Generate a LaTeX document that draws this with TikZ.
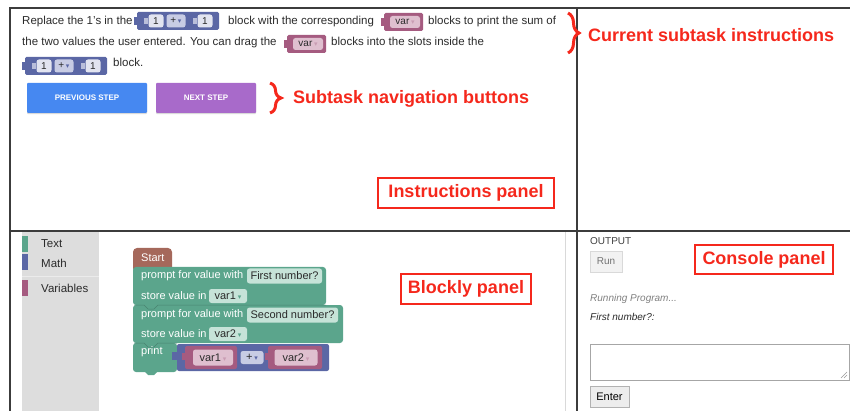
\documentclass[tikz,border=0pt]{standalone}
\usepackage{fontspec}
\setmainfont{Liberation Sans}
\newfontfamily\symf{DejaVu Sans}
\usetikzlibrary{decorations.pathreplacing,shadows}

\definecolor{txtc}{HTML}{2A2A2A}
\definecolor{labred}{HTML}{F5281C}
\definecolor{frame}{HTML}{3C3C3C}
\definecolor{grn}{HTML}{5BA58C}
\definecolor{grnf}{HTML}{C6E3D8}
\definecolor{mth}{HTML}{5B67A5}
\definecolor{mthf}{HTML}{C8CCE4}
\definecolor{numf}{HTML}{E2E4F0}
\definecolor{vrb}{HTML}{A55B80}
\definecolor{vrbf}{HTML}{DFBFCF}
\definecolor{strt}{HTML}{A5685B}
\definecolor{tbox}{HTML}{DDDDDD}
\definecolor{prevb}{HTML}{4688F1}
\definecolor{nextb}{HTML}{A86ACA}

\newcommand{\txtf}{\fontsize{11.5}{13}\selectfont}
\newcommand{\labf}{\fontsize{18}{20}\selectfont\bfseries}
\newcommand{\blkf}{\fontsize{11}{13}\selectfont}
\newcommand{\smf}{\fontsize{10}{12}\selectfont}
\newcommand{\btnf}{\fontsize{8}{10}\selectfont\bfseries}
\newcommand{\dd}[1]{\,\textcolor{#1}{\symf\fontsize{7}{7}\selectfont ▾}}

% inline blocks of the instructions text: name, left x, middle y
\newcommand{\varblk}[3]{%
  \fill[vrb] (#2,#3-4) rectangle (#2+4,#3+4);
  \fill[vrb, rounded corners=1.5pt] (#2+3,#3-9) rectangle (#2+42,#3+9);
  \node[field, fill=vrbf, minimum width=30pt, minimum height=12pt, font=\smf] (#1) at (#2+24,#3) {var\dd{vrb!60}};
}
\newcommand{\sumblk}[3]{%
  \fill[mth] (#2,#3-4) rectangle (#2+4,#3+4);
  \fill[mth, rounded corners=1.5pt] (#2+3,#3-9) rectangle (#2+85,#3+9);
  \fill[numf!70!mth] (#2+10,#3-3) rectangle (#2+14,#3+3);
  \fill[numf!70!mth] (#2+59,#3-3) rectangle (#2+63,#3+3);
  \node[field, fill=numf, minimum width=15pt, minimum height=13pt, font=\smf] (#1a) at (#2+22,#3) {1};
  \node[field, fill=mthf, minimum width=19pt, minimum height=13pt, font=\smf] (#1b) at (#2+42,#3) {+\dd{mth}};
  \node[field, fill=numf, minimum width=15pt, minimum height=13pt, font=\smf] (#1c) at (#2+71,#3) {1};
}

\begin{document}
\begin{tikzpicture}[x=1pt,y=-1pt,
  txt/.style={anchor=base west, inner sep=0pt, font=\txtf, text=txtc},
  lab/.style={anchor=west, inner sep=0pt, font=\labf, text=labred},
  redbox/.style={draw=labred, line width=2.8pt, inner sep=0pt, font=\labf, text=labred},
  bl/.style={anchor=west, inner sep=0pt, font=\blkf, text=white},
  field/.style={rounded corners=2.5pt, inner sep=0pt, minimum height=15pt, font=\blkf, text=txtc},
  btn/.style={inner sep=0pt, minimum height=30pt, rounded corners=1pt, font=\btnf, text=white,
    drop shadow={opacity=.3, shadow xshift=0pt, shadow yshift=-1.2pt}},
  ui/.style={anchor=west, inner sep=0pt, font=\smf, text=txtc},
  brc/.style={decorate, decoration={brace, amplitude=11pt}, draw=labred, line width=3pt},
  frm/.style={draw=frame, line width=1.5pt}]

\useasboundingbox (0,0) rectangle (850,411);

\fill[tbox] (22,232) rectangle (99,411);
\draw[white!92!black, line width=.6pt] (22,276) -- (99,276);
\draw[white!85!black, line width=.8pt] (565,232) -- (565,411);

\draw[frm] (10,411) -- (10,8) -- (850,8);
\draw[frm] (577,8) -- (577,411);
\draw[frm] (10,231) -- (850,231);

\node[txt] (t1a) at (22,25) {Replace the 1's in the};
\sumblk{sum1}{134}{21}
\node[txt] (t1b) at (228,25) {block with the corresponding};
\varblk{var1}{381}{22}
\node[txt] (t1c) at (428,25) {blocks to print the sum of};
\node[txt] (t2a) at (22,46) {the two values the user entered. You can drag the};
\varblk{var2}{284}{44}
\node[txt] (t2b) at (331,46) {blocks into the slots inside the};
\sumblk{sum2}{22}{66}
\node[txt] (t3) at (113,67) {block.};

\node[btn, fill=prevb, minimum width=120pt] (prev) at (87,98) {PREVIOUS STEP};
\node[btn, fill=nextb, minimum width=100pt] (next) at (206,98) {NEXT STEP};

\draw[brc] (568,13) -- (568,53);
\node[lab] (lcur) at (588,35) {Current subtask instructions};
\draw[brc] (270,83) -- (270,113);
\node[lab] (lnav) at (293,99) {Subtask navigation buttons};
\node[redbox, minimum width=176pt, minimum height=30pt] (ipanel) at (466,193) {Instructions panel};

\fill[grn] (22,236) rectangle (28,252);
\fill[mth] (22,254) rectangle (28,270);
\fill[vrb] (22,280) rectangle (28,296);
\node[ui, font=\fontsize{11.5}{13}\selectfont] (ctext) at (41,244) {Text};
\node[ui, font=\fontsize{11.5}{13}\selectfont] (cmath) at (41,263) {Math};
\node[ui, font=\fontsize{11.5}{13}\selectfont] (cvars) at (41,288) {Variables};

\fill[strt, rounded corners=4pt] (133,272) |- (172,248) -- (172,272) -- cycle;
\fill[grn, rounded corners=3pt] (133,267) rectangle (326,305);
\fill[grn, rounded corners=3pt] (133,305) rectangle (343,343);
\fill[grn, rounded corners=3pt] (133,343) rectangle (177,372);
\fill[grn] (144,371) -- (158,371) -- (154,375) -- (148,375) -- cycle;
\draw[grn!80!black, line width=.5pt] (134,305) -- (144,305) -- (148,309) -- (154,309) -- (158,305) -- (326,305);
\draw[grn!80!black, line width=.5pt] (134,343) -- (144,343) -- (148,347) -- (154,347) -- (158,343) -- (177,343);
\node[bl] (start) at (141,258) {Start};
\node[bl] (pr1) at (141,276) {prompt for value with};
\node[field, fill=grnf, minimum width=75pt] (fn1) at (284.5,276) {First number?};
\node[bl] (st1) at (141,295.5) {store value in};
\node[field, fill=grnf, minimum width=38pt, minimum height=14pt] (sv1) at (228,296) {var1\dd{grn}};
\node[bl] (pr2) at (141,315) {prompt for value with};
\node[field, fill=grnf, minimum width=91pt] (fn2) at (292.5,315) {Second number?};
\node[bl] (st2) at (141,333.5) {store value in};
\node[field, fill=grnf, minimum width=38pt, minimum height=14pt] (sv2) at (228,334) {var2\dd{grn}};
\node[bl] (prt) at (141,352) {print};

\fill[mth] (172,352) rectangle (178,360);
\fill[mth, rounded corners=2pt] (177,344) rectangle (329,371);
\fill[vrb] (182,353) rectangle (186,360);
\fill[vrb, rounded corners=2pt] (185,346) rectangle (237,369);
\node[field, fill=vrbf, minimum width=40pt, minimum height=16pt] (pv1) at (213,357.5) {var1\dd{vrb!60}};
\node[field, fill=mthf, minimum width=23pt, minimum height=13pt] (plus) at (252,357.5) {+\dd{mth}};
\fill[vrb] (265,353) rectangle (269,360);
\fill[vrb, rounded corners=2pt] (268,346) rectangle (322,369);
\node[field, fill=vrbf, minimum width=43pt, minimum height=16pt] (pv2) at (296,357.5) {var2\dd{vrb!60}};

\node[redbox, minimum width=130pt, minimum height=30pt] (bpanel) at (466,289) {Blockly panel};

\node[ui, text=black!75] (out) at (590,241) {OUTPUT};
\node[draw=black!15, fill=black!5, minimum width=32pt, minimum height=21pt, inner sep=0pt, font=\smf, text=black!55] (run) at (606,261.5) {Run};
\node[redbox, minimum width=138pt, minimum height=29pt] (cpanel) at (764,259.5) {Console panel};
\node[ui, font=\smf\itshape, text=black!50] (running) at (590,299) {Running Program...};
\node[ui, font=\smf\itshape] (first) at (590,317) {First number?:};
\node[draw=black!35, fill=white, minimum width=259pt, minimum height=36pt, inner sep=0pt] (inbox) at (719.5,362) {};
\draw[black!40, line width=.5pt] (841,378) -- (847,372) (844,378) -- (847,375);
\node[draw=black!30, fill=black!7, minimum width=39pt, minimum height=21pt, inner sep=0pt, font=\blkf, text=black] (enter) at (609.5,396.5) {Enter};
\end{tikzpicture}
\end{document}
